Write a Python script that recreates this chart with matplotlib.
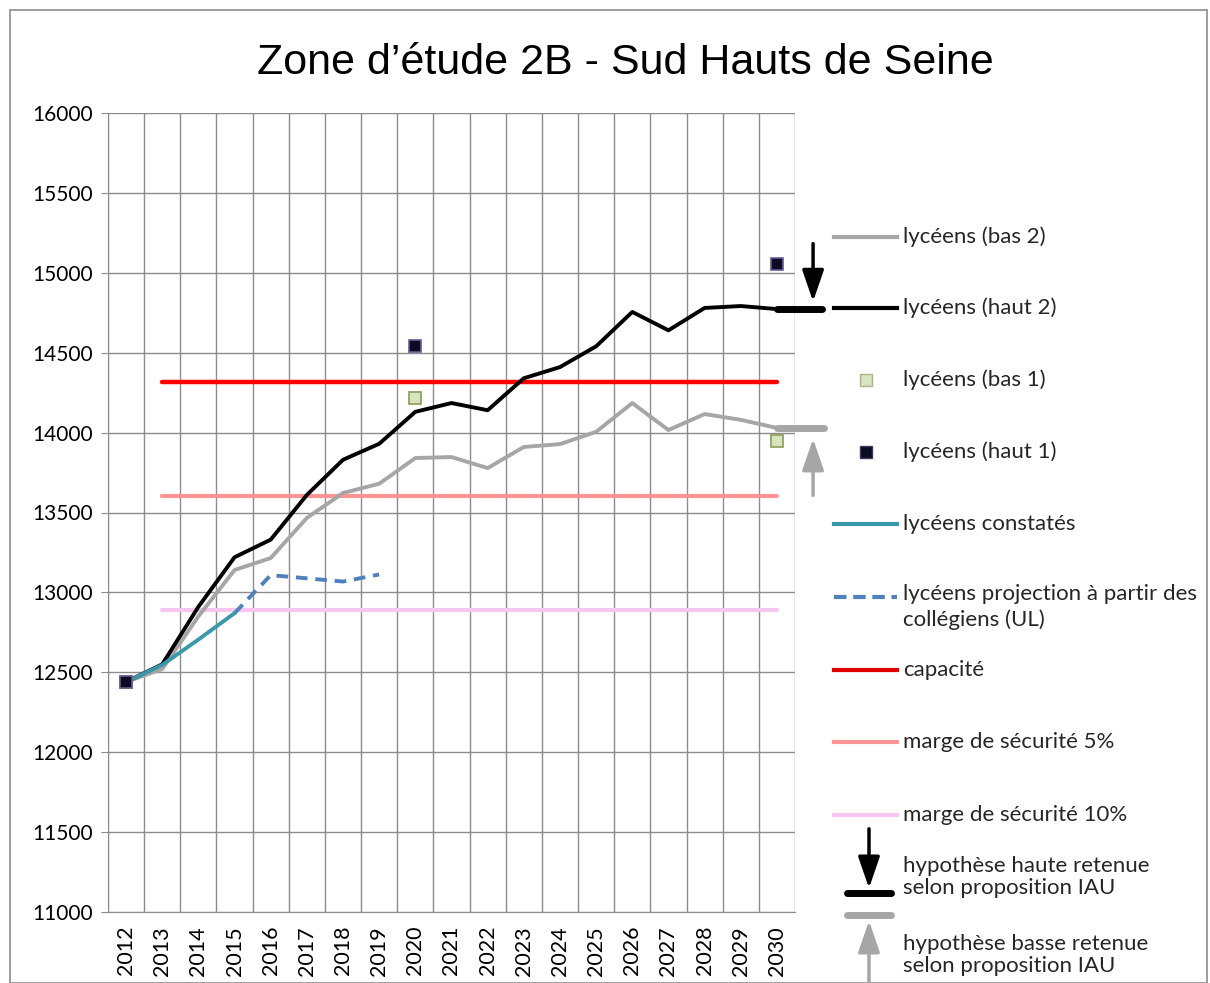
import matplotlib.pyplot as plt
from matplotlib.lines import Line2D
from matplotlib.patches import Rectangle, FancyArrowPatch

years = list(range(2012, 2031))
haut2 = [12440, 12550, 12910, 13220, 13330, 13610, 13830, 13930, 14130, 14185,
         14140, 14340, 14410, 14540, 14755, 14640, 14780, 14792, 14773]
bas2 = [12440, 12520, 12850, 13140, 13215, 13466, 13622, 13680, 13841, 13847,
        13778, 13910, 13928, 14005, 14185, 14016, 14116, 14080, 14029]
haut1_years = [2012, 2020, 2030]
haut1 = [12440, 14545, 15052]
bas1_years = [2012, 2020, 2030]
bas1 = [12440, 14218, 13945]
constates_years = [2012, 2013, 2014, 2015]
constates = [12440, 12546, 12705, 12870]
projection_years = [2015, 2016, 2017, 2018, 2019]
projection = [12870, 13108, 13088, 13068, 13112]
capacite = 14318
marge5 = 13603
marge10 = 12890
hyp_haute = 14773
hyp_basse = 14029

plt.rcParams['font.family'] = ['Lato', 'DejaVu Sans']

fig = plt.figure(figsize=(12.1, 9.83), dpi=100)
fig.patches.append(Rectangle((10 / 1210, 0), 1197 / 1210, 973 / 983, transform=fig.transFigure,
                             fill=False, edgecolor='#8c8c8c', linewidth=1.2))
ax = fig.add_axes([108 / 1210, 1 - 912 / 983, 687 / 1210, 799 / 983])

x = list(range(len(years)))
pos = {y: i for i, y in enumerate(years)}

ax.plot(x[1:], [capacite] * (len(x) - 1), color='#ff0000', lw=3.2, solid_capstyle='round', zorder=2)
ax.plot(x[1:], [marge5] * (len(x) - 1), color='#ff9494', lw=3.0, solid_capstyle='round', zorder=2)
ax.plot(x[1:], [marge10] * (len(x) - 1), color='#f7c6f0', lw=3.0, solid_capstyle='round', zorder=2)
ax.plot(x, bas2, color='#a6a6a6', lw=2.8, zorder=3)
ax.plot(x, haut2, color='black', lw=2.8, zorder=4)
ax.plot([pos[y] for y in projection_years], projection, color='#4f81bd', lw=2.8,
        dashes=(3, 2), zorder=3)
ax.plot([pos[y] for y in constates_years], constates, color='#3a98aa', lw=2.8, zorder=5)
ax.plot([pos[y] for y in bas1_years], bas1, ls='none', marker='s', ms=8,
        mfc='#d7e4bd', mec='#8a9c5a', mew=1.2, zorder=6)
ax.plot([pos[y] for y in haut1_years], haut1, ls='none', marker='s', ms=8,
        mfc='#0b0b22', mec='#6a5a96', mew=1.2, zorder=7)

# retained hypotheses markers at 2030
arrow_style = '-|>,head_width=0.55,head_length=1.6'
ax.plot([18, 19.25], [hyp_haute, hyp_haute], color='black', lw=5, solid_capstyle='round',
        clip_on=False, zorder=8)
ax.plot([18, 19.3], [hyp_basse, hyp_basse], color='#a6a6a6', lw=5, solid_capstyle='round',
        clip_on=False, zorder=8)
ax.annotate('', xy=(19.0, hyp_haute + 30), xytext=(19.0, 15200),
            arrowprops=dict(arrowstyle=arrow_style, color='black', lw=2.5, mutation_scale=12),
            annotation_clip=False)
ax.annotate('', xy=(19.0, hyp_basse - 50), xytext=(19.0, 13590),
            arrowprops=dict(arrowstyle=arrow_style, color='#a6a6a6', lw=2.5, mutation_scale=12),
            annotation_clip=False)

ax.set_xlim(-0.5, len(years) - 0.5)
ax.set_ylim(11000, 16000)
ax.set_yticks(range(11000, 16001, 500))
ax.set_xticks(x)
ax.set_xticklabels([str(y) for y in years], rotation=90)
ax.set_xticks([i - 0.5 for i in range(len(years) + 1)], minor=True)
ax.grid(True, which='major', axis='y', color='#8c8c8c', lw=1)
ax.grid(True, which='minor', axis='x', color='#8c8c8c', lw=1)
ax.set_axisbelow(True)
ax.tick_params(axis='x', which='major', length=0, labelsize=15.5, pad=10)
ax.tick_params(axis='x', which='minor', length=0)
ax.tick_params(axis='y', length=5, color='#8c8c8c', labelsize=15, pad=6)
for s in ['top', 'right']:
    ax.spines[s].set_visible(False)
for s in ['left', 'bottom']:
    ax.spines[s].set_color('#8c8c8c')

fig.text(625 / 1210, 1 - 63 / 983, 'Zone d\u2019étude 2B - Sud Hauts de Seine', fontsize=31,
         family=['Liberation Sans', 'DejaVu Sans'], ha='center', va='center')

# legend drawn on the right
W, H = 1210, 983


def fx(px):
    return px / W


def fy(py):
    return 1 - py / H


entries = [
    ('line', 237, dict(color='#a6a6a6', lw=3), 'lycéens (bas 2)'),
    ('line', 308, dict(color='black', lw=3), 'lycéens (haut 2)'),
    ('mark', 380, dict(mfc='#d7e4bd', mec='#a8b48a'), 'lycéens (bas 1)'),
    ('mark', 452, dict(mfc='#0b0b22', mec='#3a3a5a'), 'lycéens (haut 1)'),
    ('line', 524, dict(color='#3a98aa', lw=3), 'lycéens constatés'),
    ('line', 597, dict(color='#4f81bd', lw=3, dashes=(3, 1.6)), 'lycéens projection à partir des\ncollégiens (UL)'),
    ('line', 670, dict(color='#e00000', lw=3), 'capacité'),
    ('line', 742, dict(color='#ff9494', lw=3), 'marge de sécurité 5%'),
    ('line', 815, dict(color='#f7c6f0', lw=3), 'marge de sécurité 10%'),
]
for kind, py, style, label in entries:
    if kind == 'line':
        fig.add_artist(Line2D([fx(834), fx(897)], [fy(py), fy(py)], transform=fig.transFigure, **style))
    else:
        fig.add_artist(Line2D([fx(866)], [fy(py)], transform=fig.transFigure, ls='none',
                              marker='s', ms=8, mew=1, **style))
    if '\n' in label:
        fig.text(fx(903), fy(py - 13), label, fontsize=16, va='top', ha='left', color='#262626',
                 linespacing=1.3)
    else:
        fig.text(fx(903), fy(py), label, fontsize=16, va='center', ha='left', color='#262626')

fig.add_artist(Line2D([fx(847), fx(891)], [fy(893), fy(893)], transform=fig.transFigure,
                      color='black', lw=5, solid_capstyle='round'))
fig.add_artist(Line2D([fx(847), fx(891)], [fy(915), fy(915)], transform=fig.transFigure,
                      color='#a6a6a6', lw=5, solid_capstyle='round'))
fig.patches.append(FancyArrowPatch(
    (fx(869), fy(826)), (fx(869), fy(891)), transform=fig.transFigure, mutation_scale=12,
    arrowstyle=arrow_style, color='black', lw=2.5))
fig.patches.append(FancyArrowPatch(
    (fx(869), fy(995)), (fx(869), fy(918)), transform=fig.transFigure, mutation_scale=12,
    arrowstyle=arrow_style, color='#a6a6a6', lw=2.5))
fig.text(fx(903), fy(877), 'hypothèse haute retenue\nselon proposition IAU', fontsize=16,
         va='center', ha='left', color='#262626', linespacing=1.15)
fig.text(fx(903), fy(955), 'hypothèse basse retenue\nselon proposition IAU', fontsize=16,
         va='center', ha='left', color='#262626', linespacing=1.15)

fig.savefig('out.png', dpi=100)
